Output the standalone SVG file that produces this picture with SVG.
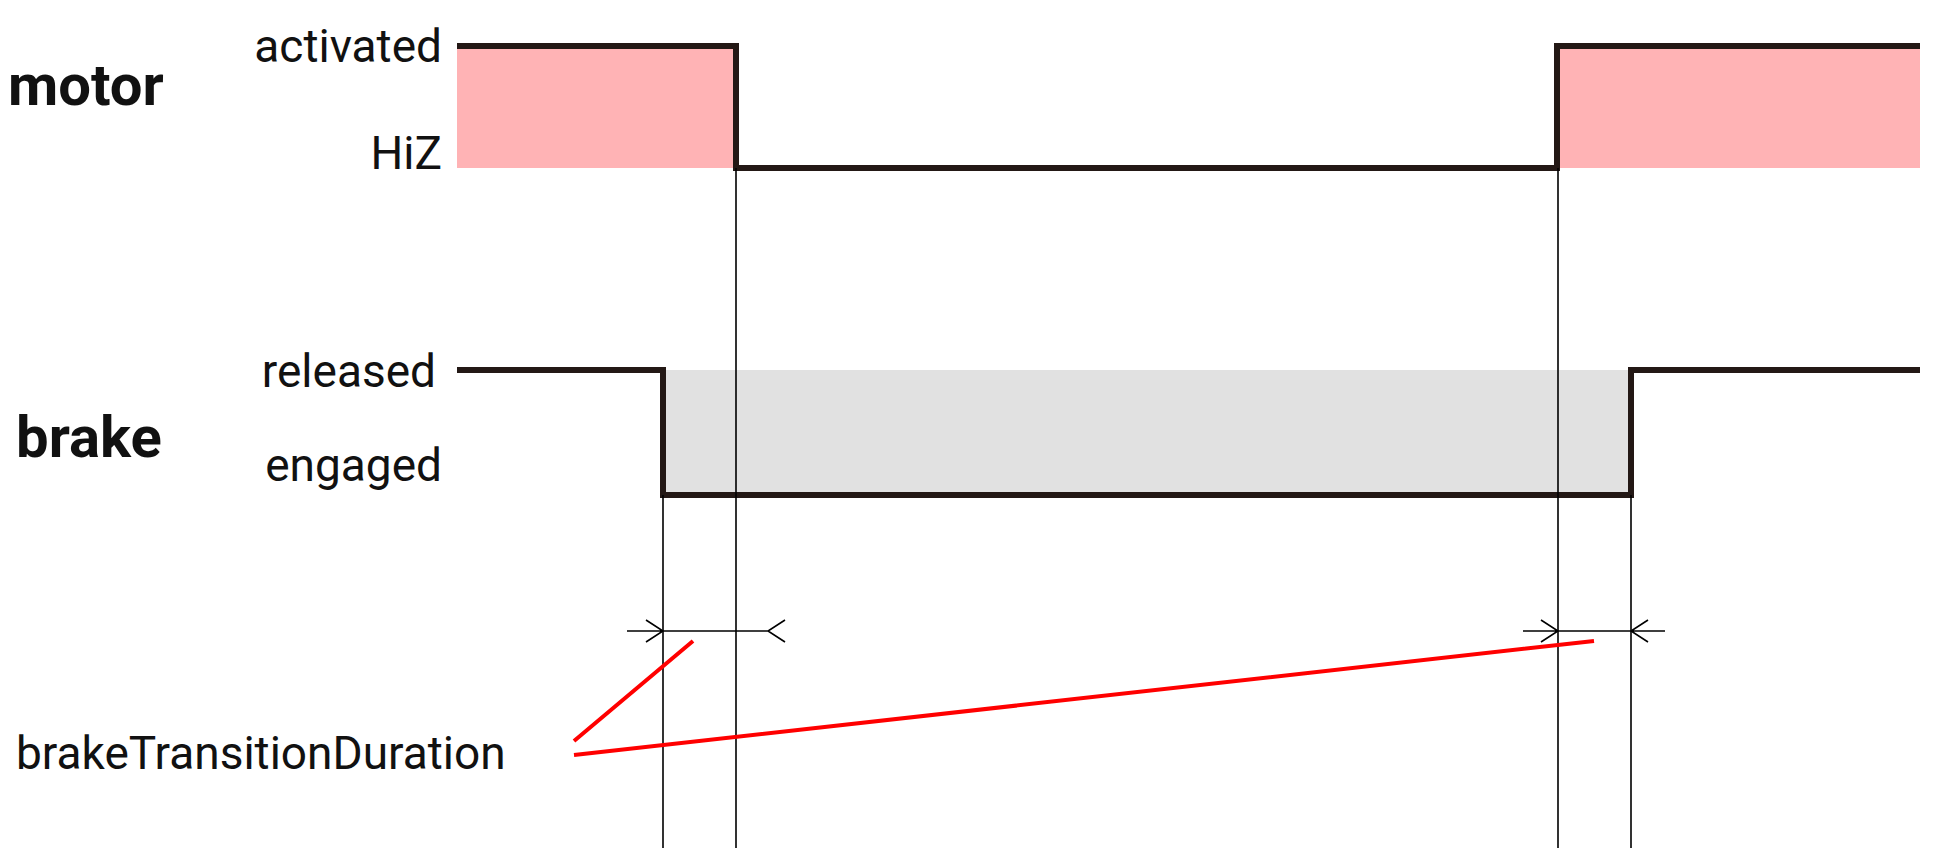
<svg xmlns="http://www.w3.org/2000/svg" width="1943" height="866" viewBox="0 0 1943 866">
<style>
text{font-family:Roboto,"Liberation Sans",sans-serif;fill:#111}
.t{font-weight:bold;font-size:58px}
.l{font-size:46px;text-anchor:end}
.sig{fill:none;stroke:#231815;stroke-width:6}
.thin{stroke:#000;stroke-width:1.6;fill:none}
.red{stroke:#ff0000;stroke-width:4;fill:none}
</style>
<rect width="1943" height="866" fill="#fff"/>
<g id="motor">
<rect x="457" y="46" width="279" height="122" fill="#ffb3b5"/>
<rect x="1557" y="46" width="363" height="122" fill="#ffb3b5"/>
<path class="sig" d="M457 46H736V168H1557V46H1920"/>
<text class="t" x="8" y="105">motor</text>
<text class="l" x="442" y="62">activated</text>
<text class="l" x="442" y="169">HiZ</text>
</g>
<g id="brake">
<rect x="663" y="370" width="968" height="125" fill="#e1e1e1"/>
<path class="sig" d="M457 370H663V495H1631V370H1920"/>
<text class="t" x="16" y="457">brake</text>
<text class="l" x="436" y="387">released</text>
<text class="l" x="442" y="481">engaged</text>
</g>
<g id="connectors">
<path class="thin" d="M736 168V848M1558 168V848M663 495V848M1631 495V848"/>
<path class="thin" d="M627 631H768M646 620L663 631L646 642M785 620L768 631L785 642"/>
<path class="thin" d="M1523 631H1665M1541 620L1558 631L1541 642M1648 620L1631 631L1648 642"/>
<path class="red" d="M574 741L693 641M574 755L1594 641"/>
</g>
<g id="label"><text x="16" y="769" style="font-size:46px">brakeTransitionDuration</text></g>
</svg>
